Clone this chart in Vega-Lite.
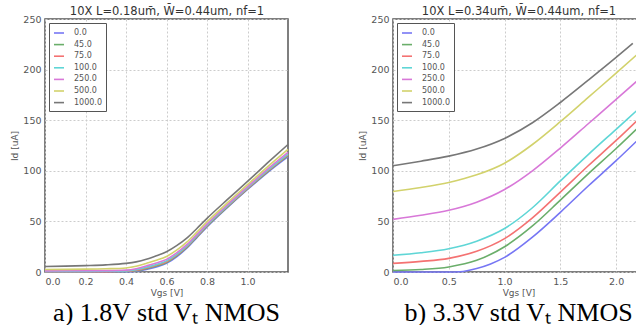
{
  "$schema": "https://vega.github.io/schema/vega-lite/v6.json",
  "background": "white",
  "padding": {"left": 10, "top": 4, "right": 0, "bottom": 0},
  "datasets": {
    "a": [
      {"vgs":0,"id":0,"bias":"0.0"},{"vgs":0.1,"id":0,"bias":"0.0"},{"vgs":0.2,"id":0,"bias":"0.0"},{"vgs":0.3,"id":0,"bias":"0.0"},{"vgs":0.4,"id":0.2,"bias":"0.0"},{"vgs":0.45,"id":0.8,"bias":"0.0"},{"vgs":0.5,"id":2.5,"bias":"0.0"},{"vgs":0.55,"id":5,"bias":"0.0"},{"vgs":0.6,"id":8.5,"bias":"0.0"},{"vgs":0.65,"id":15,"bias":"0.0"},{"vgs":0.7,"id":23.5,"bias":"0.0"},{"vgs":0.75,"id":34,"bias":"0.0"},{"vgs":0.8,"id":44.5,"bias":"0.0"},{"vgs":0.9,"id":63.5,"bias":"0.0"},{"vgs":1.0,"id":81.5,"bias":"0.0"},{"vgs":1.1,"id":98.5,"bias":"0.0"},{"vgs":1.2,"id":114,"bias":"0.0"},
      {"vgs":0,"id":0.2,"bias":"45.0"},{"vgs":0.1,"id":0.2,"bias":"45.0"},{"vgs":0.2,"id":0.2,"bias":"45.0"},{"vgs":0.3,"id":0.2,"bias":"45.0"},{"vgs":0.4,"id":0.5,"bias":"45.0"},{"vgs":0.45,"id":1.3,"bias":"45.0"},{"vgs":0.5,"id":3.3,"bias":"45.0"},{"vgs":0.55,"id":5.9,"bias":"45.0"},{"vgs":0.6,"id":9.4,"bias":"45.0"},{"vgs":0.65,"id":15.9,"bias":"45.0"},{"vgs":0.7,"id":24.3,"bias":"45.0"},{"vgs":0.75,"id":34.7,"bias":"45.0"},{"vgs":0.8,"id":45.2,"bias":"45.0"},{"vgs":0.9,"id":64.1,"bias":"45.0"},{"vgs":1.0,"id":82.1,"bias":"45.0"},{"vgs":1.1,"id":99.3,"bias":"45.0"},{"vgs":1.2,"id":115,"bias":"45.0"},
      {"vgs":0,"id":0.3,"bias":"75.0"},{"vgs":0.1,"id":0.35,"bias":"75.0"},{"vgs":0.2,"id":0.4,"bias":"75.0"},{"vgs":0.3,"id":0.4,"bias":"75.0"},{"vgs":0.4,"id":0.7,"bias":"75.0"},{"vgs":0.45,"id":1.7,"bias":"75.0"},{"vgs":0.5,"id":4.0,"bias":"75.0"},{"vgs":0.55,"id":6.7,"bias":"75.0"},{"vgs":0.6,"id":10.2,"bias":"75.0"},{"vgs":0.65,"id":16.7,"bias":"75.0"},{"vgs":0.7,"id":25,"bias":"75.0"},{"vgs":0.75,"id":35.4,"bias":"75.0"},{"vgs":0.8,"id":45.8,"bias":"75.0"},{"vgs":0.9,"id":64.7,"bias":"75.0"},{"vgs":1.0,"id":82.7,"bias":"75.0"},{"vgs":1.1,"id":99.9,"bias":"75.0"},{"vgs":1.2,"id":115.8,"bias":"75.0"},
      {"vgs":0,"id":0.55,"bias":"100.0"},{"vgs":0.1,"id":0.6,"bias":"100.0"},{"vgs":0.2,"id":0.6,"bias":"100.0"},{"vgs":0.3,"id":0.7,"bias":"100.0"},{"vgs":0.4,"id":1.0,"bias":"100.0"},{"vgs":0.45,"id":2.2,"bias":"100.0"},{"vgs":0.5,"id":4.7,"bias":"100.0"},{"vgs":0.55,"id":7.4,"bias":"100.0"},{"vgs":0.6,"id":11.0,"bias":"100.0"},{"vgs":0.65,"id":17.4,"bias":"100.0"},{"vgs":0.7,"id":25.7,"bias":"100.0"},{"vgs":0.75,"id":36,"bias":"100.0"},{"vgs":0.8,"id":46.4,"bias":"100.0"},{"vgs":0.9,"id":65.3,"bias":"100.0"},{"vgs":1.0,"id":83.3,"bias":"100.0"},{"vgs":1.1,"id":100.6,"bias":"100.0"},{"vgs":1.2,"id":116.6,"bias":"100.0"},
      {"vgs":0,"id":1.1,"bias":"250.0"},{"vgs":0.1,"id":1.2,"bias":"250.0"},{"vgs":0.2,"id":1.3,"bias":"250.0"},{"vgs":0.3,"id":1.4,"bias":"250.0"},{"vgs":0.4,"id":1.9,"bias":"250.0"},{"vgs":0.45,"id":3.3,"bias":"250.0"},{"vgs":0.5,"id":6.0,"bias":"250.0"},{"vgs":0.55,"id":8.9,"bias":"250.0"},{"vgs":0.6,"id":12.5,"bias":"250.0"},{"vgs":0.65,"id":18.9,"bias":"250.0"},{"vgs":0.7,"id":27,"bias":"250.0"},{"vgs":0.75,"id":37.2,"bias":"250.0"},{"vgs":0.8,"id":47.5,"bias":"250.0"},{"vgs":0.9,"id":66.3,"bias":"250.0"},{"vgs":1.0,"id":84.3,"bias":"250.0"},{"vgs":1.1,"id":101.8,"bias":"250.0"},{"vgs":1.2,"id":118.2,"bias":"250.0"},
      {"vgs":0,"id":2.5,"bias":"500.0"},{"vgs":0.1,"id":2.6,"bias":"500.0"},{"vgs":0.2,"id":2.8,"bias":"500.0"},{"vgs":0.3,"id":3.2,"bias":"500.0"},{"vgs":0.4,"id":4.0,"bias":"500.0"},{"vgs":0.45,"id":5.6,"bias":"500.0"},{"vgs":0.5,"id":8.5,"bias":"500.0"},{"vgs":0.55,"id":11.6,"bias":"500.0"},{"vgs":0.6,"id":15.4,"bias":"500.0"},{"vgs":0.65,"id":21.6,"bias":"500.0"},{"vgs":0.7,"id":29.5,"bias":"500.0"},{"vgs":0.75,"id":39.4,"bias":"500.0"},{"vgs":0.8,"id":49.6,"bias":"500.0"},{"vgs":0.9,"id":68.3,"bias":"500.0"},{"vgs":1.0,"id":86.3,"bias":"500.0"},{"vgs":1.1,"id":104.2,"bias":"500.0"},{"vgs":1.2,"id":121.2,"bias":"500.0"},
      {"vgs":0,"id":5.5,"bias":"1000.0"},{"vgs":0.1,"id":5.8,"bias":"1000.0"},{"vgs":0.2,"id":6.3,"bias":"1000.0"},{"vgs":0.3,"id":7,"bias":"1000.0"},{"vgs":0.4,"id":8.5,"bias":"1000.0"},{"vgs":0.45,"id":10,"bias":"1000.0"},{"vgs":0.5,"id":12.5,"bias":"1000.0"},{"vgs":0.55,"id":16,"bias":"1000.0"},{"vgs":0.6,"id":20,"bias":"1000.0"},{"vgs":0.65,"id":26,"bias":"1000.0"},{"vgs":0.7,"id":33.5,"bias":"1000.0"},{"vgs":0.75,"id":43,"bias":"1000.0"},{"vgs":0.8,"id":53,"bias":"1000.0"},{"vgs":0.9,"id":71.5,"bias":"1000.0"},{"vgs":1.0,"id":89.5,"bias":"1000.0"},{"vgs":1.1,"id":108,"bias":"1000.0"},{"vgs":1.2,"id":126,"bias":"1000.0"}
    ],
    "b": [
      {"vgs":0,"id":0,"bias":"0.0"},{"vgs":0.25,"id":0,"bias":"0.0"},{"vgs":0.5,"id":0,"bias":"0.0"},{"vgs":0.6,"id":0.3,"bias":"0.0"},{"vgs":0.75,"id":3.5,"bias":"0.0"},{"vgs":0.875,"id":8,"bias":"0.0"},{"vgs":1.0,"id":14.5,"bias":"0.0"},{"vgs":1.25,"id":34.5,"bias":"0.0"},{"vgs":1.5,"id":59,"bias":"0.0"},{"vgs":1.75,"id":85,"bias":"0.0"},{"vgs":2.0,"id":110,"bias":"0.0"},{"vgs":2.2,"id":131,"bias":"0.0"},
      {"vgs":0,"id":1.5,"bias":"45.0"},{"vgs":0.25,"id":2.5,"bias":"45.0"},{"vgs":0.5,"id":5,"bias":"45.0"},{"vgs":0.75,"id":11.5,"bias":"45.0"},{"vgs":1.0,"id":25,"bias":"45.0"},{"vgs":1.25,"id":45.5,"bias":"45.0"},{"vgs":1.5,"id":71,"bias":"45.0"},{"vgs":1.75,"id":97,"bias":"45.0"},{"vgs":2.0,"id":122,"bias":"45.0"},{"vgs":2.2,"id":143,"bias":"45.0"},
      {"vgs":0,"id":8.5,"bias":"75.0"},{"vgs":0.25,"id":10.5,"bias":"75.0"},{"vgs":0.5,"id":13.5,"bias":"75.0"},{"vgs":0.75,"id":20.5,"bias":"75.0"},{"vgs":1.0,"id":33,"bias":"75.0"},{"vgs":1.25,"id":53.5,"bias":"75.0"},{"vgs":1.5,"id":79,"bias":"75.0"},{"vgs":1.75,"id":105,"bias":"75.0"},{"vgs":2.0,"id":130,"bias":"75.0"},{"vgs":2.2,"id":151,"bias":"75.0"},
      {"vgs":0,"id":16.5,"bias":"100.0"},{"vgs":0.25,"id":19,"bias":"100.0"},{"vgs":0.5,"id":23,"bias":"100.0"},{"vgs":0.75,"id":30.5,"bias":"100.0"},{"vgs":1.0,"id":43,"bias":"100.0"},{"vgs":1.25,"id":63.5,"bias":"100.0"},{"vgs":1.5,"id":90,"bias":"100.0"},{"vgs":1.75,"id":116,"bias":"100.0"},{"vgs":2.0,"id":141,"bias":"100.0"},{"vgs":2.2,"id":161,"bias":"100.0"},
      {"vgs":0,"id":52,"bias":"250.0"},{"vgs":0.25,"id":56,"bias":"250.0"},{"vgs":0.5,"id":61,"bias":"250.0"},{"vgs":0.75,"id":69,"bias":"250.0"},{"vgs":1.0,"id":81.5,"bias":"250.0"},{"vgs":1.25,"id":100,"bias":"250.0"},{"vgs":1.5,"id":122.5,"bias":"250.0"},{"vgs":1.75,"id":146.5,"bias":"250.0"},{"vgs":2.0,"id":170.5,"bias":"250.0"},{"vgs":2.2,"id":190,"bias":"250.0"},
      {"vgs":0,"id":79.5,"bias":"500.0"},{"vgs":0.25,"id":83.5,"bias":"500.0"},{"vgs":0.5,"id":88.5,"bias":"500.0"},{"vgs":0.75,"id":96,"bias":"500.0"},{"vgs":1.0,"id":107.5,"bias":"500.0"},{"vgs":1.25,"id":126,"bias":"500.0"},{"vgs":1.5,"id":148.5,"bias":"500.0"},{"vgs":1.75,"id":172.5,"bias":"500.0"},{"vgs":2.0,"id":196.5,"bias":"500.0"},{"vgs":2.2,"id":216,"bias":"500.0"},
      {"vgs":0,"id":105,"bias":"1000.0"},{"vgs":0.25,"id":109.5,"bias":"1000.0"},{"vgs":0.5,"id":114.5,"bias":"1000.0"},{"vgs":0.75,"id":121.5,"bias":"1000.0"},{"vgs":1.0,"id":132,"bias":"1000.0"},{"vgs":1.25,"id":147.5,"bias":"1000.0"},{"vgs":1.5,"id":167.5,"bias":"1000.0"},{"vgs":1.75,"id":189.5,"bias":"1000.0"},{"vgs":2.0,"id":212,"bias":"1000.0"},{"vgs":2.15,"id":226,"bias":"1000.0"}
    ]
  },
  "hconcat": [
    {
      "width": 243,
      "height": 253,
      "data": {"name": "a"},
      "title": {"text": "a) 1.8V std Vₜ NMOS"},
      "layer": [
        {
          "mark": {"type": "line", "strokeWidth": 1.6, "interpolate": "monotone"},
          "encoding": {
            "x": {"field": "vgs", "type": "quantitative", "scale": {"domain": [0, 1.2], "nice": false},
                  "axis": {"title": "Vgs [V]", "values": [0, 0.2, 0.4, 0.6, 0.8, 1.0], "format": ".1f"}},
            "y": {"field": "id", "type": "quantitative", "scale": {"domain": [0, 250], "nice": false},
                  "axis": {"title": "Id [uA]", "values": [0, 50, 100, 150, 200, 250]}},
            "color": {"field": "bias", "type": "nominal",
                      "scale": {"domain": ["0.0", "45.0", "75.0", "100.0", "250.0", "500.0", "1000.0"],
                                "range": ["#7676f4", "#6aae6a", "#f47272", "#5fd6d6", "#d878d8", "#d2d26c", "#777777"]},
                      "legend": {"title": null}}
          }
        },
        {
          "mark": {"type": "point", "opacity": 0},
          "encoding": {
            "x": {"field": "vgs", "type": "quantitative", "scale": {"domain": [0, 1.2], "nice": false},
                  "axis": {"orient": "top", "title": "10X L=0.18um̄, W̄=0.44um, nf=1", "labels": false, "ticks": false, "grid": false, "domain": false, "titleFontSize": 11.5, "titleColor": "#333", "titlePadding": 3}}
          }
        }
      ],
      "resolve": {"axis": {"x": "independent"}}
    },
    {
      "width": 251,
      "height": 253,
      "data": {"name": "b"},
      "title": {"text": "b) 3.3V std Vₜ NMOS"},
      "layer": [
        {
          "mark": {"type": "line", "strokeWidth": 1.6, "interpolate": "monotone"},
          "encoding": {
            "x": {"field": "vgs", "type": "quantitative", "scale": {"domain": [0, 2.25], "nice": false},
                  "axis": {"title": "Vgs [V]", "values": [0, 0.5, 1.0, 1.5, 2.0], "format": ".1f"}},
            "y": {"field": "id", "type": "quantitative", "scale": {"domain": [0, 250], "nice": false},
                  "axis": {"title": "Id [uA]", "values": [0, 50, 100, 150, 200, 250]}},
            "color": {"field": "bias", "type": "nominal",
                      "scale": {"domain": ["0.0", "45.0", "75.0", "100.0", "250.0", "500.0", "1000.0"],
                                "range": ["#7676f4", "#6aae6a", "#f47272", "#5fd6d6", "#d878d8", "#d2d26c", "#777777"]},
                      "legend": {"title": null}}
          }
        },
        {
          "mark": {"type": "point", "opacity": 0},
          "encoding": {
            "x": {"field": "vgs", "type": "quantitative", "scale": {"domain": [0, 2.25], "nice": false},
                  "axis": {"orient": "top", "title": "10X L=0.34um̄, W̄=0.44um, nf=1", "labels": false, "ticks": false, "grid": false, "domain": false, "titleFontSize": 11.5, "titleColor": "#333", "titlePadding": 3}}
          }
        }
      ],
      "resolve": {"axis": {"x": "independent"}}
    }
  ],
  "spacing": 105,
  "bounds": "flush",
  "resolve": {"scale": {"color": "independent"}, "legend": {"color": "independent"}},
  "config": {
    "font": "DejaVu Sans",
    "view": {"stroke": "#555555", "strokeWidth": 1.5},
    "axis": {
      "labelFont": "DejaVu Sans", "labelFontSize": 9.5, "labelColor": "#555555",
      "titleFont": "DejaVu Sans", "titleFontSize": 9, "titleFontWeight": "normal", "titleColor": "#555555",
      "gridColor": "#cccccc", "gridDash": [2, 2], "gridWidth": 1,
      "domain": false, "ticks": false, "labelPadding": 4, "titlePadding": 3
    },
    "legend": {
      "orient": "top-left", "offset": 4, "padding": 4,
      "strokeColor": "#555555", "fillColor": "white",
      "labelFont": "DejaVu Sans", "labelFontSize": 8, "labelColor": "#555555", "labelOffset": 9,
      "symbolType": "stroke", "symbolSize": 100, "symbolStrokeWidth": 1.6, "rowPadding": 1.6
    },
    "title": {
      "orient": "bottom", "frame": "group", "anchor": "middle",
      "font": "Liberation Serif", "fontSize": 26, "fontWeight": "normal", "color": "black", "offset": 2
    }
  }
}
